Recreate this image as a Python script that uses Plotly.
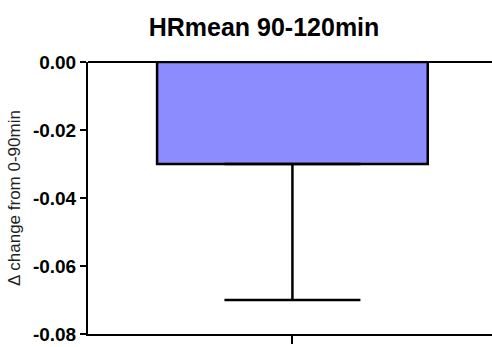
import plotly.graph_objects as go

categories = [""]
values = [-0.03]
err_minus = [0.04]
y_ticks = [0.0, -0.02, -0.04, -0.06, -0.08]
y_tick_labels = ["0.00", "-0.02", "-0.04", "-0.06", "-0.08"]

fig = go.Figure()
fig.add_trace(go.Bar(
    x=[0], y=values, width=0.67,
    marker=dict(color="#8C8CFF", line=dict(color="black", width=2.5)),
    error_y=dict(type="data", symmetric=False, array=[0], arrayminus=err_minus,
                 color="black", thickness=2.5, width=68),
))
fig.update_layout(
    width=492, height=347,
    margin=dict(l=88, r=0, t=62, b=13),
    plot_bgcolor="white", paper_bgcolor="white",
    showlegend=False,
    title=dict(text="<b>HRmean 90-120min</b>", x=264/492, xanchor="center",
               y=1-27/347, yanchor="middle",
               font=dict(family="Arial, Liberation Sans", size=25, color="black")),
    xaxis=dict(range=[-0.506, 0.494], showline=True, linecolor="black", linewidth=2,
               tickvals=[0], ticktext=categories, ticks="outside", ticklen=8,
               tickwidth=2, tickcolor="black", showgrid=False, zeroline=False),
    yaxis=dict(range=[-0.08, 0.0], showline=True, linecolor="black", linewidth=2,
               tickvals=y_ticks, ticktext=y_tick_labels, ticks="outside", ticklen=6,
               tickwidth=2, tickcolor="black", showgrid=False,
               zeroline=True, zerolinecolor="black", zerolinewidth=2,
               tickfont=dict(family="Arial, Liberation Sans", size=19, color="black", weight="bold"),
               title=dict(text="Δ change from 0-90min", standoff=8,
                          font=dict(family="Arial, Liberation Sans", size=17, color="#222"))),
)
fig.write_html("out.html")
